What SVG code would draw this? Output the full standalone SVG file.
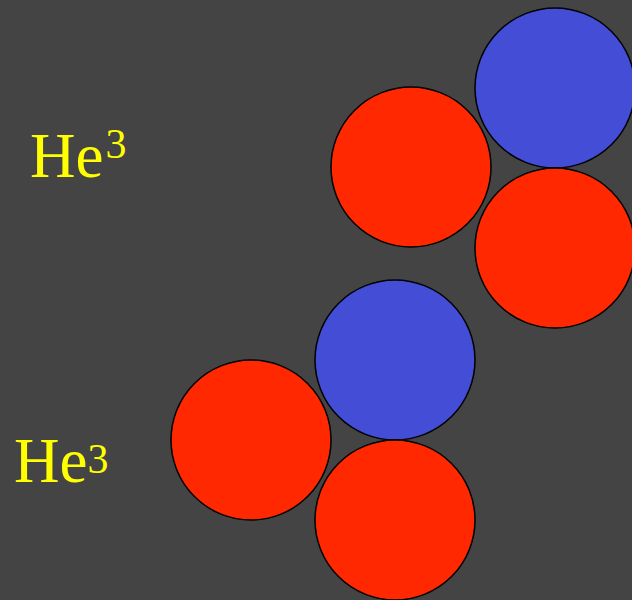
<svg xmlns="http://www.w3.org/2000/svg" width="632" height="600" viewBox="0 0 632 600">
<style>
.r{fill:#ff2800;stroke:#000;stroke-width:1.5}
.b{fill:#434dd6;stroke:#000;stroke-width:1.5}
.t{fill:#ffff00;font-family:"Liberation Serif",serif;font-size:63px}
.s{font-size:42px}
</style>
<rect width="632" height="600" fill="#444444"/>
<g id="he3-top">
<circle id="n1" class="b" cx="555" cy="88" r="80"/>
<circle id="n2" class="r" cx="411" cy="167" r="80"/>
<circle id="n3" class="r" cx="555" cy="248" r="80"/>
<text class="t" x="30" y="177">He<tspan class="s" dx="2" dy="-19">3</tspan></text>
</g>
<g id="he3-bottom">
<circle id="n4" class="b" cx="395" cy="360" r="80"/>
<circle id="n5" class="r" cx="251" cy="440" r="80"/>
<circle id="n6" class="r" cx="395" cy="520" r="80"/>
<text class="t" x="14" y="482">He<tspan class="s" dy="-9">3</tspan></text>
</g>
<g id="connectors"/>
</svg>
